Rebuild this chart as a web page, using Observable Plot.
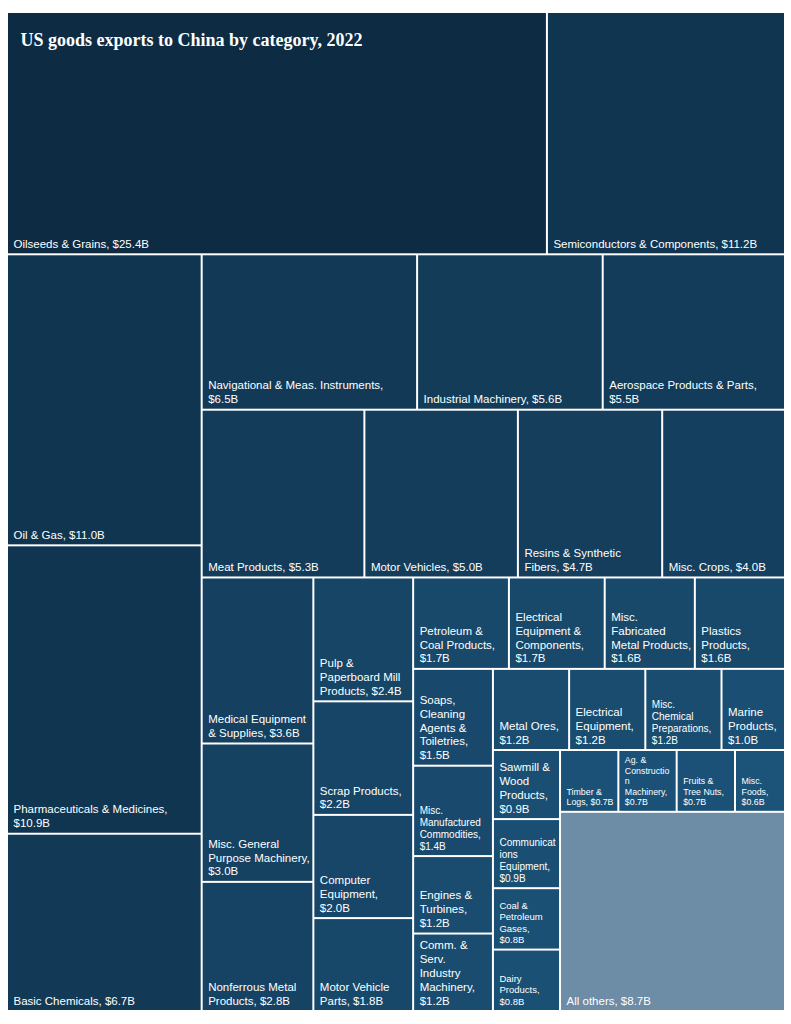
<!DOCTYPE html>
<html>
<head>
<meta charset="utf-8">
<script src="https://cdn.jsdelivr.net/npm/d3@7"></script>
<script src="https://cdn.jsdelivr.net/npm/@observablehq/plot@0.6"></script>
<style>
  html, body { margin: 0; padding: 0; background: #ffffff; }
  #chart svg { display: block; }
</style>
</head>
<body>
<div id="chart"></div>
<script>
const title = "US goods exports to China by category, 2022";

const categories = [
  "Oilseeds & Grains", "Semiconductors & Components", "Oil & Gas", "Pharmaceuticals & Medicines",
  "Basic Chemicals", "Navigational & Meas. Instruments", "Industrial Machinery", "Aerospace Products & Parts",
  "Meat Products", "Motor Vehicles", "Resins & Synthetic Fibers", "Misc. Crops",
  "Medical Equipment & Supplies", "Misc. General Purpose Machinery", "Nonferrous Metal Products",
  "Pulp & Paperboard Mill Products", "Scrap Products", "Computer Equipment", "Motor Vehicle Parts",
  "Petroleum & Coal Products", "Electrical Equipment & Components", "Misc. Fabricated Metal Products",
  "Plastics Products", "Soaps, Cleaning Agents & Toiletries", "Misc. Manufactured Commodities",
  "Engines & Turbines", "Comm. & Serv. Industry Machinery", "Metal Ores", "Electrical Equipment",
  "Misc. Chemical Preparations", "Marine Products", "Sawmill & Wood Products", "Communications Equipment",
  "Coal & Petroleum Gases", "Dairy Products", "Timber & Logs", "Ag. & Construction Machinery",
  "Fruits & Tree Nuts", "Misc. Foods", "All others"
];

const valuesB = [
  25.4, 11.2, 11.0, 10.9,
  6.7, 6.5, 5.6, 5.5,
  5.3, 5.0, 4.7, 4.0,
  3.6, 3.0, 2.8,
  2.4, 2.2, 2.0, 1.8,
  1.7, 1.7, 1.6,
  1.6, 1.5, 1.4,
  1.2, 1.2, 1.2, 1.2,
  1.2, 1.0, 0.9, 0.9,
  0.8, 0.8, 0.7, 0.7,
  0.7, 0.6, 8.7
];

const otherLabel = "All others";

// ---- squarified tiling: keep adding to a strip while the previous cell's aspect improves ----
function tileStrips(parent, x0, y0, x1, y1) {
  const nodes = parent.children;
  const n = nodes.length;
  let value = parent.value, i0 = 0;
  while (i0 < n) {
    const dx = x1 - x0, dy = y1 - y0;
    const across = dx < dy;
    const len = across ? dx : dy;
    const depth = across ? dy : dx;
    let sum = nodes[i0].value, i1 = i0 + 1;
    while (i1 < n) {
      const prev = nodes[i1 - 1].value;
      const tOld = depth * sum / value, lOld = len * prev / sum;
      const rOld = Math.max(tOld / lOld, lOld / tOld);
      const sumNew = sum + nodes[i1].value;
      const tNew = depth * sumNew / value, lNew = len * prev / sumNew;
      const rNew = Math.max(tNew / lNew, lNew / tNew);
      if (rNew > rOld) break;
      sum = sumNew; i1++;
    }
    const row = {value: sum, children: nodes.slice(i0, i1)};
    const last = i1 >= n;
    if (across) {
      const yy = last ? y1 : y0 + dy * sum / value;
      d3.treemapDice(row, x0, y0, x1, yy); y0 = yy;
    } else {
      const xx = last ? x1 : x0 + dx * sum / value;
      d3.treemapSlice(row, x0, y0, xx, y1); x0 = xx;
    }
    value -= sum; i0 = i1;
  }
}

// ---- layout (d3 treemap) ----
const W = 776, H = 997;
const root = d3.hierarchy({children: categories.map((name, i) => ({name, value: valuesB[i]}))})
  .sum(d => d.value || 0);
d3.treemap().tile(tileStrips).size([W, H]).paddingInner(2).round(false)(root);
const leaves = root.leaves().map(l => ({
  name: l.data.name, value: l.data.value, x0: l.x0, x1: l.x1, y0: l.y0, y1: l.y1
}));

// ---- label sizing & wrapping ----
const ctx = document.createElement("canvas").getContext("2d");
const fontFamily = '"Liberation Sans", Arial, Helvetica, sans-serif';
const measure = (s, fs) => { ctx.font = `${fs}px ${fontFamily}`; return ctx.measureText(s).width; };
function baseSize(v) { return v >= 0.9 ? 11.5 : v >= 0.8 ? 9.5 : 8.8; }
function wrap(text, maxW, fs) {
  const words = text.split(" ");
  const lines = [];
  let cur = "";
  const breakLong = (w) => {
    while (measure(w, fs) > maxW && w.length > 1) {
      let k = w.length;
      while (k > 1 && measure(w.slice(0, k), fs) > maxW) k--;
      lines.push(w.slice(0, k));
      w = w.slice(k);
    }
    return w;
  };
  for (const w of words) {
    const trial = cur ? cur + " " + w : w;
    if (measure(trial, fs) <= maxW) { cur = trial; continue; }
    if (cur) lines.push(cur);
    cur = breakLong(w);
  }
  if (cur) lines.push(cur);
  return lines.join("\n");
}
for (const d of leaves) {
  const text = `${d.name}, $${d.value.toFixed(1)}B`;
  const maxW = d.x1 - d.x0 - 8;
  let fs = baseSize(d.value);
  const longest = d3.max(text.split(" "), w => measure(w, fs));
  if (fs > 10 && longest > maxW) fs = 10;
  d.fs = fs;
  d.label = wrap(text, maxW, fs);
}

const main = leaves.filter(d => d.name !== otherLabel);
const others = leaves.filter(d => d.name === otherLabel);

const chart = Plot.plot({
  width: 791,
  height: 1024,
  margin: 0,
  x: {domain: [0, W], range: [8, 8 + W], axis: null},
  y: {domain: [0, H], range: [13, 13 + H], axis: null},
  color: {type: "log", domain: [0.6, 25.4], range: ["#1c5379", "#0d2c44"], interpolate: "rgb"},
  style: {background: "#ffffff"},
  marks: [
    Plot.rect(main, {x1: "x0", x2: "x1", y1: "y0", y2: "y1", fill: "value"}),
    Plot.rect(others, {x1: "x0", x2: "x1", y1: "y0", y2: "y1", fill: "#6d8ca5"}),
    Plot.text(leaves, {
      x: "x0", y: "y1", text: "label", dx: 5, dy: -6,
      textAnchor: "start", lineAnchor: "bottom", lineHeight: 1.2,
      fontSize: d => d.fs, fill: "#ffffff",
      fontFamily: fontFamily
    }),
    Plot.text([title], {
      frameAnchor: "top-left", text: d => d, dx: 20, dy: 33,
      textAnchor: "start", lineAnchor: "top",
      fontSize: 18, fontWeight: "bold", fill: "#ffffff",
      fontFamily: '"Liberation Serif", "Times New Roman", serif'
    })
  ]
});
document.getElementById("chart").appendChild(chart);
</script>
</body>
</html>
